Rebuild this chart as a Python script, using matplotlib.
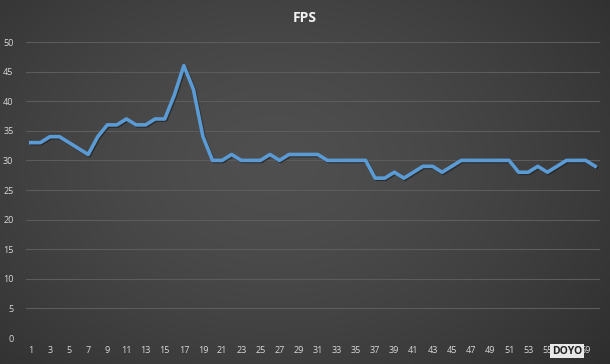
import numpy as np
import matplotlib.pyplot as plt
import matplotlib.patheffects as pe

# FPS samples, one per second
seconds = list(range(1, 61))
fps = [33, 33, 34, 34, 33, 32, 31, 34, 36, 36,
       37, 36, 36, 37, 37, 41, 46, 42, 34, 30,
       30, 31, 30, 30, 30, 31, 30, 31, 31, 31,
       31, 30, 30, 30, 30, 30, 27, 27, 28, 27,
       28, 29, 29, 28, 29, 30, 30, 30, 30, 30,
       30, 28, 28, 29, 28, 29, 30, 30, 30, 29]
xtick_labels = [str(s) for s in seconds[::2]]
yticks = list(range(0, 51, 5))

plt.rcParams['font.family'] = ['Open Sans', 'DejaVu Sans']

fig = plt.figure(figsize=(6.1, 3.64), dpi=100)

# dark radial gradient background
bg = fig.add_axes([0, 0, 1, 1], zorder=-10)
yy, xx = np.mgrid[0:1:364j, 0:1:610j]
r = np.sqrt(((xx - 0.45) / 0.75) ** 2 + ((yy - 0.45) / 0.9) ** 2)
shade = 0.31 - 0.14 * np.clip(r, 0, 1) ** 1.5
bg.imshow(np.dstack([shade] * 3), aspect='auto', extent=[0, 1, 0, 1])
bg.axis('off')

ax = fig.add_axes([26 / 610, 1 - 338 / 364, 574 / 610, 296 / 364])
ax.patch.set_alpha(0)

ax.plot(seconds, fps, color='#5b9bd5', linewidth=2.6, solid_joinstyle='round',
        path_effects=[pe.SimpleLineShadow(offset=(0.8, -0.8), shadow_color='#1a1a1a', alpha=0.6),
                      pe.Normal()])

ax.set_xlim(0.5, 60.5)
ax.set_ylim(0, 50)
ax.set_yticks(yticks)
ax.set_xticks(seconds[::2])
ax.set_xticklabels(xtick_labels)
ax.grid(axis='y', color='#5c5c5c', linewidth=0.8)
ax.set_axisbelow(True)
for s in ax.spines.values():
    s.set_visible(False)
ax.tick_params(length=0, colors='#d9d9d9', labelsize=6.5, pad=6)
ax.tick_params(axis='y', pad=9)

fig.text(0.5, 1 - 18 / 364, 'FPS', color='#f2f2f2', fontsize=10, fontweight='bold',
         ha='center', va='center')

# watermark logo in the lower right corner
fig.text(567 / 610, 1 - 351 / 364, 'DOYO', color='#222222', fontsize=7.5, fontweight='bold',
         ha='center', va='center',
         bbox=dict(boxstyle='square,pad=0.15', facecolor='#e8e8e8', edgecolor='none'))

fig.savefig('out.png', dpi=100)
